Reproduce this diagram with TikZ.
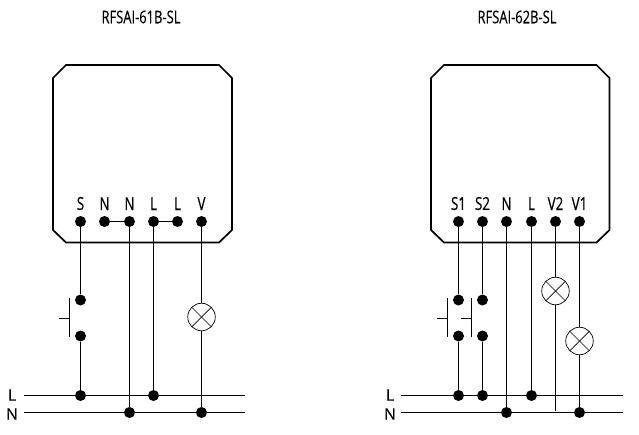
\documentclass[tikz,border=0pt]{standalone}
\usepackage{fontspec}
\setmainfont[FakeStretch=0.74,FakeBold=0.4]{Open Sans}
\newfontfamily\busfont[FakeBold=0.2]{Open Sans}
\usetikzlibrary{positioning}

\begin{document}
\begin{tikzpicture}[
        x=1pt,y=-1pt,
        wire/.style={line width=1.1pt},
        dot/.style={circle,fill=black,inner sep=0pt,minimum size=11pt},
        title/.style={font=\fontsize{17.5}{17.5}\selectfont},
        pinlabel/.style={font=\fontsize{18}{18}\selectfont,node distance=3.5pt,inner sep=2pt},
        buslabel/.style={font=\busfont\fontsize{16}{16}\selectfont,inner sep=0pt},
        device/.style={draw,line width=1.7pt,line join=miter},
        lamp/.style={circle,draw,fill=white,line width=0.7pt,minimum size=27.5pt,inner sep=0pt,path picture={
            \draw [line width=0.7pt] (path picture bounding box.north west) -- (path picture bounding box.south east);
            \draw [line width=0.7pt] (path picture bounding box.north east) -- (path picture bounding box.south west);
        }}
    ]
    \useasboundingbox (0,0) rectangle (639,434);

    \node [title] (title-a) at (141,17) {RFSAI-61B-SL};
    \node [title] (title-b) at (517,17) {RFSAI-62B-SL};

    % housings
    \foreach \l/\r in {53/232,431/609.5} {
        \draw [device] (\l+13,65) -- (\r-13,65) -- (\r,78) -- (\r,230) -- (\r-13,242.5)
            -- (\l+13,242.5) -- (\l,230) -- (\l,78) -- cycle;
    }

    % bus lines
    \foreach \s/\xa/\xb/\xl in {a/24/245/12,b/401/623/390} {
        \coordinate (\s-L-start) at (\xa,395.5);
        \coordinate (\s-L-end) at (\xb,395.5);
        \coordinate (\s-N-start) at (\xa,412.5);
        \coordinate (\s-N-end) at (\xb,412.5);
        \node [buslabel] (\s-L-label) at (\xl,395) {L};
        \node [buslabel] (\s-N-label) at (\xl,414) {N};
        \draw [wire] (\s-L-start) -- (\s-L-end);
        \draw [wire] (\s-N-start) -- (\s-N-end);
    }

    % terminals
    \foreach \name/\x/\lab in {a1/80.5/S,a2/104.5/N,a3/129.5/N,a4/153.5/L,a5/177.5/L,a6/201.5/V,
                               b1/458.5/S1,b2/482.5/S2,b3/506.5/N,b4/531.5/L,b5/555.5/V2,b6/579.5/V1} {
        \node [dot] (\name) at (\x,221.5) {};
        \node [pinlabel,above=of \name] (\name-label) {\lab};
    }
    \draw [wire] (a2) -- (a3);
    \draw [wire] (a4) -- (a5);

    % junctions on the bus lines
    \foreach \name/\x/\y in {a1-j/80.5/395.5,a3-j/129.5/412.5,a4-j/153.5/395.5,a6-j/201.5/412.5,
                             b1-j/458.5/395.5,b2-j/482.5/395.5,b3-j/506.5/412.5,b4-j/531.5/395.5,b6-j/579.5/412.5} {
        \node [dot] (\name) at (\x,\y) {};
    }

    % push buttons
    \foreach \name/\x in {a1/80.5,b1/458.5,b2/482.5} {
        \node [dot] (\name-up) at (\x,300) {};
        \node [dot] (\name-dn) at (\x,336) {};
        \coordinate (\name-bar1) at (\x-11,298);
        \coordinate (\name-bar2) at (\x-11,337);
        \coordinate (\name-mid) at (\x-11,318.5);
        \coordinate (\name-push) at (\x-21.5,318.5);
        \draw [wire] (\name-bar1) -- (\name-bar2);
        \draw [wire] (\name-mid) -- (\name-push);
        \draw [wire] (\name) -- (\name-up);
        \draw [wire] (\name-dn) -- (\name-j);
    }

    % straight wires
    \foreach \a/\b in {a3/a3-j,a4/a4-j,b3/b3-j,b4/b4-j} {
        \draw [wire] (\a) -- (\b);
    }

    % lamps
    \node [lamp] (lamp-a) at (201.5,317) {};
    \node [lamp] (lamp-b2) at (555.5,291) {};
    \node [lamp] (lamp-b1) at (579.5,341) {};
    \coordinate (b5-end) at (555.5,411);
    \draw [wire] (a6) -- (lamp-a) -- (a6-j);
    \draw [wire] (b5) -- (lamp-b2) -- (b5-end);
    \draw [wire] (b6) -- (lamp-b1) -- (b6-j);
\end{tikzpicture}
\end{document}
